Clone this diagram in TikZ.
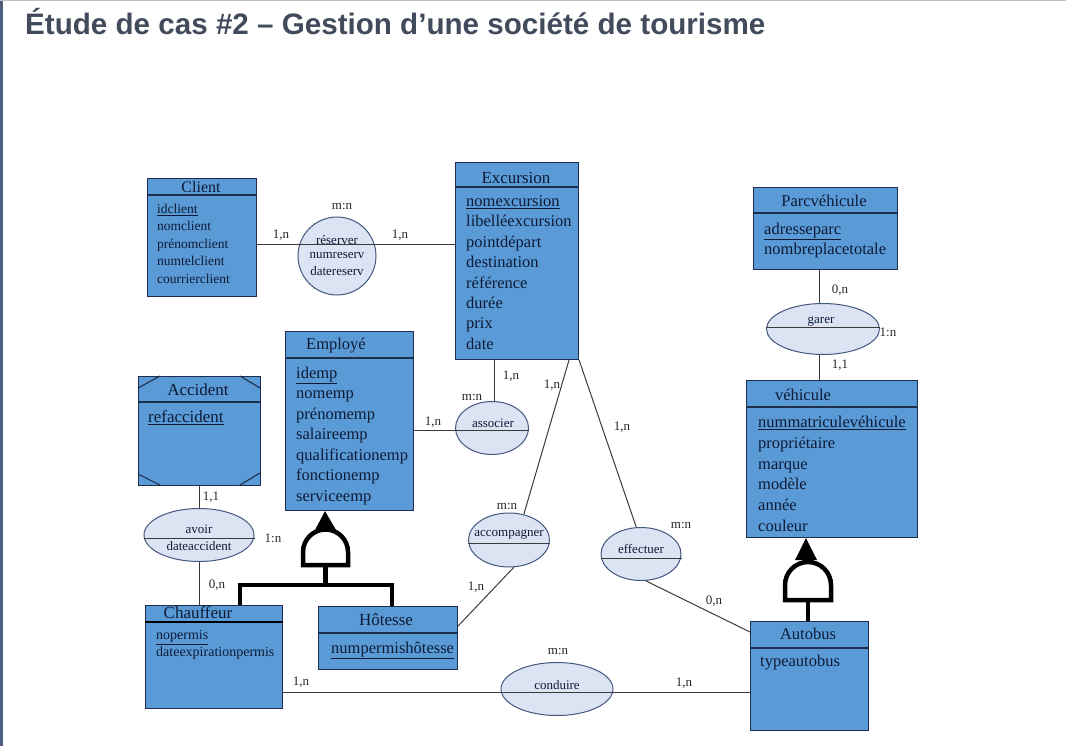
\documentclass[tikz,border=0pt]{standalone}
\usepackage{fontspec}
\setmainfont{Liberation Serif}
\newfontfamily\headfont{Liberation Sans}
\usepackage{xcolor}
\usetikzlibrary{shapes.geometric}

\definecolor{entblue}{HTML}{5A9AD6}
\definecolor{entline}{HTML}{1F2D4D}
\definecolor{assocfill}{HTML}{DCE4F4}
\definecolor{assocline}{HTML}{44577F}
\definecolor{txtdark}{HTML}{0E1B36}
\definecolor{linkgray}{HTML}{3A3A3A}
\definecolor{titlegray}{HTML}{414B5B}
\definecolor{frameblue}{HTML}{4E5F80}

\begin{document}
\begin{tikzpicture}[x=1pt, y=-1pt,
    ent/.style={draw=entline, fill=entblue, line width=1.1pt, inner sep=0pt, anchor=north west},
    sep/.style={draw=entline, line width=1.1pt},
    assoc/.style={ellipse, draw=assocline, fill=assocfill, line width=1pt, inner sep=0pt},
    etitle/.style={font=\fontsize{16.5}{20}\selectfont, text=txtdark, inner sep=0pt},
    attr/.style={anchor=west, text=txtdark, inner sep=0pt, text height=.68em, text depth=.2em},
    atext/.style={font=\fontsize{13}{15}\selectfont, text=txtdark, inner sep=0pt},
    card/.style={font=\fontsize{13}{14}\selectfont, text=black!85, inner sep=0pt},
    link/.style={draw=linkgray, line width=1pt},
    isa/.style={line width=4.5pt, draw=black, line join=miter}]
    \useasboundingbox (0,0) rectangle (1066,746);
    \fill[frameblue] (0,0) rectangle (2.5,746);
    \fill[gray!50] (0,0) rectangle (1066,1.5);
    \node[anchor=base west, inner sep=0pt, text=titlegray,
          font=\headfont\bfseries\fontsize{29.6}{32}\selectfont] (titre) at (25,35)
          {Étude de cas \#2 – Gestion d’une société de tourisme};

    % entites
    \node[ent, minimum width=109pt, minimum height=118pt] (client) at (147,178) {};
    \node[ent, minimum width=123pt, minimum height=197pt] (excursion) at (455,162) {};
    \node[ent, minimum width=144pt, minimum height=82pt] (parc) at (753,187) {};
    \node[ent, minimum width=171pt, minimum height=157pt] (vehicule) at (746,380) {};
    \node[ent, minimum width=118pt, minimum height=109pt] (autobus) at (750,621) {};
    \node[ent, minimum width=128pt, minimum height=179pt] (employe) at (285,331) {};
    \node[ent, minimum width=122pt, minimum height=109pt] (accident) at (138,376) {};
    \node[ent, minimum width=137pt, minimum height=103pt] (chauffeur) at (145,605) {};
    \node[ent, minimum width=139pt, minimum height=63pt] (hotesse) at (318,606) {};

    \draw[sep] (client.west |- 0,195) -- (client.east |- 0,195);
    \draw[sep] (excursion.west |- 0,187) -- (excursion.east |- 0,187);
    \draw[sep] (parc.west |- 0,213) -- (parc.east |- 0,213);
    \draw[sep] (vehicule.west |- 0,407) -- (vehicule.east |- 0,407);
    \draw[sep] (autobus.west |- 0,648) -- (autobus.east |- 0,648);
    \draw[sep] (employe.west |- 0,358) -- (employe.east |- 0,358);
    \draw[sep] (accident.west |- 0,402) -- (accident.east |- 0,402);
    \draw[sep] (hotesse.west |- 0,633) -- (hotesse.east |- 0,633);
    \draw[line width=2pt, black] (chauffeur.west |- 0,622) -- (chauffeur.east |- 0,622);
    % coins de Accident
    \draw[sep] (138,388) -- (160,376);
    \draw[sep] (240,376) -- (260,388);
    \draw[sep] (138,474) -- (160,485);
    \draw[sep] (240,485) -- (260,473);

    \node[etitle, font=\fontsize{16}{20}\selectfont] (client-t) at (201,187) {Client};
    \node[etitle, font=\fontsize{17}{20}\selectfont] (excursion-t) at (516,178) {Excursion};
    \node[etitle] (parc-t) at (824,201) {Parcvéhicule};
    \node[etitle] (vehicule-t) at (803,395) {véhicule};
    \node[etitle] (autobus-t) at (808,634) {Autobus};
    \node[etitle] (employe-t) at (336,346) {Employé};
    \node[etitle, font=\fontsize{17}{20}\selectfont] (accident-t) at (198,390) {Accident};
    \node[etitle, font=\fontsize{17}{20}\selectfont] (chauffeur-t) at (198,613) {Chauffeur};
    \node[etitle, font=\fontsize{17}{20}\selectfont] (hotesse-t) at (386,620) {Hôtesse};

    \foreach \a [count=\i from 0] in {\underline{idclient}, nomclient, prénomclient, numtelclient, courrierclient}
        \node[attr, font=\fontsize{13.5}{16}\selectfont] (client-\i) at (157,211+17.5*\i) {\a};
    \foreach \a [count=\i from 0] in {\underline{nomexcursion}, libelléexcursion, pointdépart, destination, référence, durée, prix, date}
        \node[attr, font=\fontsize{16.5}{20}\selectfont] (excursion-\i) at (466,204+20.4*\i) {\a};
    \foreach \a [count=\i from 0] in {\underline{adresseparc}, nombreplacetotale}
        \node[attr, font=\fontsize{16.5}{20}\selectfont] (parc-\i) at (764,232+20*\i) {\a};
    \foreach \a [count=\i from 0] in {\underline{nummatriculevéhicule}, propriétaire, marque, modèle, année, couleur}
        \node[attr, font=\fontsize{16.5}{20}\selectfont] (vehicule-\i) at (758,425+20.8*\i) {\a};
    \node[attr, font=\fontsize{16.5}{20}\selectfont] (autobus-0) at (760,664) {typeautobus};
    \foreach \a [count=\i from 0] in {\underline{idemp}, nomemp, prénomemp, salaireemp, qualificationemp, fonctionemp, serviceemp}
        \node[attr, font=\fontsize{16.5}{20}\selectfont] (employe-\i) at (296,376+20.5*\i) {\a};
    \node[attr, font=\fontsize{17}{20}\selectfont] (accident-0) at (148,420) {\underline{refaccident}};
    \foreach \a [count=\i from 0] in {\underline{nopermis}, dateexpirationpermis}
        \node[attr, font=\fontsize{14}{17}\selectfont] (chauffeur-\i) at (156,637+17*\i) {\a};
    \node[attr, font=\fontsize{16.5}{20}\selectfont] (hotesse-0) at (331,651) {\underline{numpermishôtesse}};

    % associations
    \node[assoc, minimum width=78pt, minimum height=78pt] (reserver) at (337,256) {};
    \node[assoc, minimum width=73pt, minimum height=53pt] (associer) at (492,428) {};
    \node[assoc, minimum width=81pt, minimum height=54pt] (accompagner) at (509,540) {};
    \node[assoc, minimum width=80pt, minimum height=53pt] (effectuer) at (641,554) {};
    \node[assoc, minimum width=112pt, minimum height=53pt] (conduire) at (557,689) {};
    \node[assoc, minimum width=113pt, minimum height=51pt] (garer) at (823,329) {};
    \node[assoc, minimum width=110pt, minimum height=53pt] (avoir) at (199,535) {};

    \node[atext] (reserver-0) at (337,240) {réserver};
    \node[atext] (reserver-1) at (337,256) {numreserv};
    \node[atext] (reserver-2) at (337,271) {datereserv};
    \node[atext] (associer-0) at (493,423) {associer};
    \node[atext] (accompagner-0) at (509,535) {accompagner};
    \node[atext] (effectuer-0) at (641,549) {effectuer};
    \node[atext] (conduire-0) at (557,685) {conduire};
    \node[atext] (garer-0) at (821,322) {garer};
    \node[atext] (avoir-0) at (199,529) {avoir};
    \node[atext] (avoir-1) at (199,546) {dateaccident};

    % liens
    \draw[link] (client.east |- 0,245) -- (excursion.west |- 0,245);
    \draw[link] (employe.east |- 0,430) -- (associer.east |- 0,430);
    \draw[link] (494,0 |- excursion.south) -- (494,0 |- associer.north);
    \draw[link] (569,0 |- excursion.south) -- (accompagner.60);
    \draw[link] (accompagner.-80) -- (hotesse.east |- 0,626);
    \draw[link] (accompagner.west |- 0,543) -- (accompagner.east |- 0,543);
    \draw[link] (excursion.south east) -- (effectuer.100);
    \draw[link] (effectuer.-80) -- (autobus.west |- 0,632);
    \draw[link] (effectuer.west |- 0,558) -- (effectuer.east |- 0,558);
    \draw[link] (chauffeur.east |- 0,692) -- (autobus.west |- 0,692);
    \draw[link] (parc.south -| 819,0) -- (garer.north -| 819,0);
    \draw[link] (garer.south -| 819,0) -- (vehicule.north -| 819,0);
    \draw[link] (garer.west |- 0,327) -- (garer.east |- 0,327);
    \draw[link] (accident.south -| 199,0) -- (avoir.north -| 199,0);
    \draw[link] (avoir.south -| 199,0) -- (chauffeur.north -| 199,0);
    \draw[link] (avoir.west |- 0,538) -- (avoir.east |- 0,538);

    % cardinalites
    \node[card] (c1) at (342,207) {m:n};
    \node[card] (c2) at (281,235) {1,n};
    \node[card] (c3) at (400,235) {1,n};
    \node[card] (c4) at (472,398) {m:n};
    \node[card] (c5) at (433,422) {1,n};
    \node[card] (c6) at (511,376) {1,n};
    \node[card] (c7) at (552,385) {1,n};
    \node[card] (c8) at (507,507) {m:n};
    \node[card] (c9) at (476,587) {1,n};
    \node[card] (c10) at (622,427) {1,n};
    \node[card] (c11) at (681,526) {m:n};
    \node[card] (c12) at (714,601) {0,n};
    \node[card] (c13) at (840,290) {0,n};
    \node[card] (c14) at (888,332) {1:n};
    \node[card] (c15) at (840,365) {1,1};
    \node[card] (c16) at (211,497) {1,1};
    \node[card] (c17) at (273,538) {1:n};
    \node[card] (c18) at (217,585) {0,n};
    \node[card] (c19) at (558,652) {m:n};
    \node[card] (c20) at (301,682) {1,n};
    \node[card] (c21) at (684,683) {1,n};

    % heritage Employe
    \fill[black] (325,0 |- employe.south) -- (315,530) -- (336,530) -- cycle;
    \draw[isa, fill=white] (303,565) -- (303,552) arc[start angle=180, end angle=360, radius=22.5] -- (348,565) -- cycle;
    \draw[isa] (325.5,565) -- (325.5,585);
    \draw[isa] (240,0 |- chauffeur.north) -- (240,585) -- (392,585) -- (392,0 |- hotesse.north);
    % heritage vehicule
    \fill[black] (806,0 |- vehicule.south) -- (795,560) -- (817,560) -- cycle;
    \draw[isa, fill=white] (785,600) -- (785,585) arc[start angle=180, end angle=360, radius=23] -- (831,600) -- cycle;
    \draw[isa] (808,600) -- (808,0 |- autobus.north);
\end{tikzpicture}
\end{document}
